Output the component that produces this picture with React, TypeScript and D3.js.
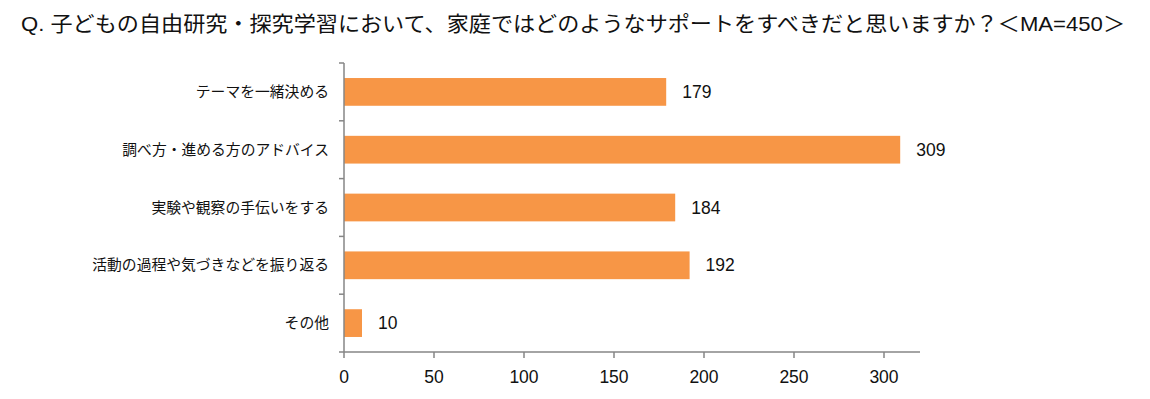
import React from 'react'
import { scaleLinear, scaleBand } from 'd3'

const title = 'Q. 子どもの自由研究・探究学習において、家庭ではどのようなサポートをすべきだと思いますか？＜MA=450＞'
const categories = [
  'テーマを一緒決める',
  '調べ方・進める方のアドバイス',
  '実験や観察の手伝いをする',
  '活動の過程や気づきなどを振り返る',
  'その他',
]
const values = [179, 309, 184, 192, 10]
const xTicks = [0, 50, 100, 150, 200, 250, 300]

const W = 1150
const H = 399
const font = '"Liberation Sans", "Noto Sans CJK JP", sans-serif'

export default function App() {
  const [top, right, bottom, left] = [63, 230, 47, 344]
  const x = scaleLinear().domain([0, 320]).range([left, W - right])
  const y = scaleBand()
    .domain(categories)
    .range([top, H - bottom])
    .paddingInner(0.52)
    .paddingOuter(0.26)
  const axisColor = '#868686'
  const bandStep = y.step()
  const y0 = top
  const y1 = H - bottom

  return (
    <svg
      width={W}
      height={H}
      style={{ position: 'absolute', left: 0, top: 0, background: '#fff' }}
      fontFamily={font}
    >
      <text
        x={21}
        y={31}
        fontSize={21}
        fill='#111'
        textLength={1104}
        lengthAdjust='spacingAndGlyphs'
      >
        {title}
      </text>
      {categories.map((c, i) => (
        <g key={c}>
          <rect
            x={x(0)}
            y={y(c)}
            width={x(values[i]) - x(0)}
            height={y.bandwidth()}
            fill='#F79646'
          />
          <text
            x={x(values[i]) + 16}
            y={(y(c) as number) + y.bandwidth() / 2}
            dominantBaseline='central'
            fontSize={17.5}
            fill='#111'
          >
            {values[i]}
          </text>
          <text
            x={left - 15}
            y={(y(c) as number) + y.bandwidth() / 2}
            dominantBaseline='central'
            textAnchor='end'
            fontSize={14.8}
            fill='#111'
          >
            {c}
          </text>
        </g>
      ))}
      <g stroke={axisColor} strokeWidth={1.5}>
        <line x1={x(0)} x2={x(0)} y1={y0} y2={y1} />
        {categories.map((c, i) => (
          <line
            key={c}
            x1={x(0) - 5}
            x2={x(0)}
            y1={y0 + bandStep * i}
            y2={y0 + bandStep * i}
          />
        ))}
        <line x1={x(0) - 5} x2={x(0)} y1={y1} y2={y1} />
        <line x1={x(0)} x2={x(320)} y1={y1} y2={y1} />
        {xTicks.map(t => (
          <line key={t} x1={x(t)} x2={x(t)} y1={y1} y2={y1 + 6} />
        ))}
      </g>
      {xTicks.map(t => (
        <text
          key={t}
          x={x(t)}
          y={y1 + 25}
          dominantBaseline='central'
          textAnchor='middle'
          fontSize={17.5}
          fill='#111'
        >
          {t}
        </text>
      ))}
    </svg>
  )
}
